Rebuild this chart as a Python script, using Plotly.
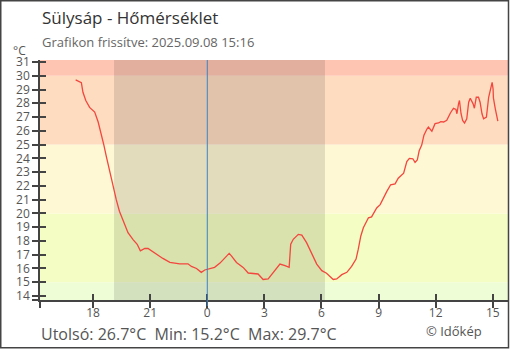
import plotly.graph_objects as go

# ---- data ----
times = [
    "2025-09-07 17:05", "2025-09-07 17:14", "2025-09-07 17:23", "2025-09-07 17:28", "2025-09-07 17:37",
    "2025-09-07 17:49", "2025-09-07 18:05", "2025-09-07 18:16", "2025-09-07 18:26", "2025-09-07 18:34",
    "2025-09-07 18:42", "2025-09-07 18:52", "2025-09-07 19:02", "2025-09-07 19:13", "2025-09-07 19:23",
    "2025-09-07 19:37", "2025-09-07 19:50", "2025-09-07 20:06", "2025-09-07 20:19", "2025-09-07 20:29",
    "2025-09-07 20:43", "2025-09-07 20:53", "2025-09-07 21:09", "2025-09-07 21:25", "2025-09-07 21:40",
    "2025-09-07 22:02", "2025-09-07 22:33", "2025-09-07 22:59", "2025-09-07 23:10", "2025-09-07 23:26",
    "2025-09-07 23:41", "2025-09-07 23:52", "2025-09-08 00:02", "2025-09-08 00:23", "2025-09-08 00:40",
    "2025-09-08 00:55", "2025-09-08 01:09", "2025-09-08 01:16", "2025-09-08 01:32", "2025-09-08 01:53",
    "2025-09-08 02:09", "2025-09-08 02:40", "2025-09-08 02:56", "2025-09-08 03:12", "2025-09-08 03:28",
    "2025-09-08 03:49", "2025-09-08 04:05", "2025-09-08 04:18", "2025-09-08 04:23", "2025-09-08 04:31",
    "2025-09-08 04:47", "2025-09-08 04:58", "2025-09-08 05:13", "2025-09-08 05:29", "2025-09-08 05:45",
    "2025-09-08 06:01", "2025-09-08 06:16", "2025-09-08 06:37", "2025-09-08 06:48", "2025-09-08 07:04",
    "2025-09-08 07:20", "2025-09-08 07:35", "2025-09-08 07:49", "2025-09-08 07:56", "2025-09-08 08:04",
    "2025-09-08 08:12", "2025-09-08 08:28", "2025-09-08 08:38", "2025-09-08 08:54", "2025-09-08 09:05",
    "2025-09-08 09:15", "2025-09-08 09:26", "2025-09-08 09:38", "2025-09-08 09:52", "2025-09-08 10:02",
    "2025-09-08 10:19", "2025-09-08 10:29", "2025-09-08 10:37", "2025-09-08 10:48", "2025-09-08 10:55",
    "2025-09-08 11:02", "2025-09-08 11:08", "2025-09-08 11:16", "2025-09-08 11:23", "2025-09-08 11:32",
    "2025-09-08 11:37", "2025-09-08 11:48", "2025-09-08 11:58", "2025-09-08 12:09", "2025-09-08 12:16",
    "2025-09-08 12:25", "2025-09-08 12:35", "2025-09-08 12:46", "2025-09-08 12:56", "2025-09-08 13:04",
    "2025-09-08 13:07", "2025-09-08 13:12", "2025-09-08 13:15", "2025-09-08 13:20", "2025-09-08 13:25",
    "2025-09-08 13:31", "2025-09-08 13:38", "2025-09-08 13:44", "2025-09-08 13:49", "2025-09-08 13:58",
    "2025-09-08 14:02", "2025-09-08 14:08", "2025-09-08 14:15", "2025-09-08 14:20", "2025-09-08 14:26",
    "2025-09-08 14:31", "2025-09-08 14:40", "2025-09-08 14:47", "2025-09-08 14:52", "2025-09-08 14:58",
    "2025-09-08 15:01", "2025-09-08 15:02", "2025-09-08 15:08", "2025-09-08 15:13", "2025-09-08 15:16",
]
temps = [
    29.7, 29.6, 29.5, 28.8, 28.2,
    27.7, 27.36, 26.64, 25.8, 24.96,
    24.1, 23.04, 21.96, 21.0, 20.16,
    19.3, 18.6, 18.1, 17.76, 17.28,
    17.45, 17.45, 17.2, 16.92, 16.73,
    16.44, 16.34, 16.34, 16.15, 16.0,
    15.72, 15.89, 15.96, 16.08, 16.39,
    16.8, 17.1, 16.92, 16.44, 16.08,
    15.67, 15.6, 15.2, 15.24, 15.72,
    16.32, 16.2, 16.08, 17.76, 18.12,
    18.48, 18.43, 17.88, 17.16, 16.32,
    15.84, 15.65, 15.2, 15.24, 15.55,
    15.72, 16.15, 16.68, 17.4, 18.36,
    18.96, 19.68, 19.75, 20.4, 20.64,
    21.12, 21.6, 22.08, 22.15, 22.56,
    22.92, 23.76, 24.0, 23.97, 23.71,
    23.88, 24.55, 24.96, 25.68, 26.11,
    26.28, 25.97, 26.52, 26.57, 26.67,
    26.64, 26.76, 27.28, 27.64, 27.55,
    27.24, 27.96, 28.2, 27.24, 26.76,
    26.57, 26.88, 28.08, 28.37, 27.96,
    27.64, 28.44, 28.44, 28.08, 27.24,
    26.88, 27.0, 28.44, 29.04, 29.52,
    29.04, 28.39, 27.6, 27.12, 26.7,
]

band_edges = [13.71, 15, 20, 25, 30, 31.145]
band_colors = ["#effdd6", "#f4fdc3", "#fff8d4", "#fddcc0", "#fec5b3"]

x_range = ["2025-09-07 15:12:36", "2025-09-08 15:48"]
y_range = [13.71, 31.145]

tick_times = ["2025-09-07 18:00", "2025-09-07 21:00", "2025-09-08 00:00", "2025-09-08 03:00",
              "2025-09-08 06:00", "2025-09-08 09:00", "2025-09-08 12:00", "2025-09-08 15:00"]
tick_labels = ["18", "21", "0", "3", "6", "9", "12", "15"]
y_ticks = list(range(14, 32))

night_start = "2025-09-07 19:06"
night_end = "2025-09-08 06:11"
midnight = "2025-09-08 00:00"

title = "Sülysáp - Hőmérséklet"
subtitle = "Grafikon frissítve: 2025.09.08 15:16"
summary = "Utolsó: 26.7°C\u00a0\u00a0Min: 15.2°C\u00a0\u00a0Max: 29.7°C"
credit = "© Időkép"

# ---- layout geometry (pixels) ----
W, H = 510, 350
ML, MR, MT, MB = 40, 2, 60, 50
PW, PH = W - ML - MR, H - MT - MB


def px(x):
    return (x - ML) / PW


def py(y):
    return (H - MB - y) / PH


AX = "#444444"
FONT = "Open Sans"

fig = go.Figure()
fig.add_trace(go.Scatter(x=times, y=temps, mode="lines",
                         line=dict(color="#f3463e", width=1.3),
                         hoverinfo="x+y", showlegend=False))
# invisible companion trace to anchor the overlay axes used for inside ticks
fig.add_trace(go.Scatter(x=times, y=temps, mode="lines", xaxis="x2", yaxis="y2",
                         line=dict(width=0), opacity=0, hoverinfo="skip", showlegend=False))

shapes = []
for i, c in enumerate(band_colors):
    shapes.append(dict(type="rect", xref="paper", yref="y", x0=0, x1=1,
                       y0=band_edges[i], y1=band_edges[i + 1], fillcolor=c,
                       line=dict(width=0), layer="below"))
shapes.append(dict(type="rect", xref="x", yref="paper", x0=night_start, x1=night_end,
                   y0=0, y1=1, fillcolor="rgba(0,0,0,0.11)", line=dict(width=0), layer="below"))
shapes.append(dict(type="line", xref="x", yref="paper", x0=midnight, x1=midnight,
                   y0=py(306), y1=1, line=dict(color="#3b84c2", width=1)))
shapes.append(dict(type="rect", xref="paper", yref="paper", x0=px(0.75), x1=px(508.5),
                   y0=py(347.75), y1=py(0.75), line=dict(color=AX, width=1.5),
                   fillcolor="rgba(0,0,0,0)"))

annotations = [
    dict(text=title, x=px(40), y=py(18), xanchor="left", yanchor="middle",
         font=dict(size=17, color="#333333")),
    dict(text=subtitle, x=px(40), y=py(42), xanchor="left", yanchor="middle",
         font=dict(size=13, color="#666666")),
    dict(text="°C", x=px(19), y=py(51), xanchor="center", yanchor="middle",
         font=dict(size=12, color="#555555")),
    dict(text=summary, x=px(39), y=py(334), xanchor="left", yanchor="middle",
         font=dict(size=16, color="#555555")),
    dict(text=credit, x=px(424), y=py(331), xanchor="left", yanchor="middle",
         font=dict(size=13, color="#555555")),
]
for a in annotations:
    a.update(xref="paper", yref="paper", showarrow=False)

x_tickvals = [x_range[0]] + tick_times
x_ticktext = [""] + tick_labels
y_tickvals = [y_range[0]] + y_ticks
y_ticktext = [""] + [str(v) for v in y_ticks]

common_x = dict(type="date", range=x_range, tickvals=x_tickvals, ticktext=x_ticktext,
                ticklen=6, tickwidth=1.5, tickcolor=AX, showgrid=False, zeroline=False,
                fixedrange=True)
common_y = dict(range=y_range, tickvals=y_tickvals, ticktext=y_ticktext,
                ticklen=6, tickwidth=1.5, tickcolor=AX, showgrid=False, zeroline=False,
                fixedrange=True)

fig.update_layout(
    width=W, height=H,
    margin=dict(l=ML, r=MR, t=MT, b=MB, pad=0),
    paper_bgcolor="white", plot_bgcolor="white",
    font=dict(family=FONT, size=12, color="#555555"),
    shapes=shapes, annotations=annotations,
    xaxis=dict(**common_x, ticks="outside", showline=True, linecolor=AX, linewidth=1.5,
               tickfont=dict(size=12, color="#555555"), ticklabelstandoff=-5),
    yaxis=dict(**common_y, ticks="outside", showline=True, linecolor=AX, linewidth=1.5,
               tickfont=dict(size=12, color="#555555"), ticklabelstandoff=0),
    xaxis2=dict(**common_x, ticks="inside", overlaying="x", anchor="y", side="bottom",
                showline=False, showticklabels=False),
    yaxis2=dict(**common_y, ticks="inside", overlaying="y", anchor="x", side="left",
                showline=False, showticklabels=False),
    showlegend=False,
)

fig.write_html("out.html")
